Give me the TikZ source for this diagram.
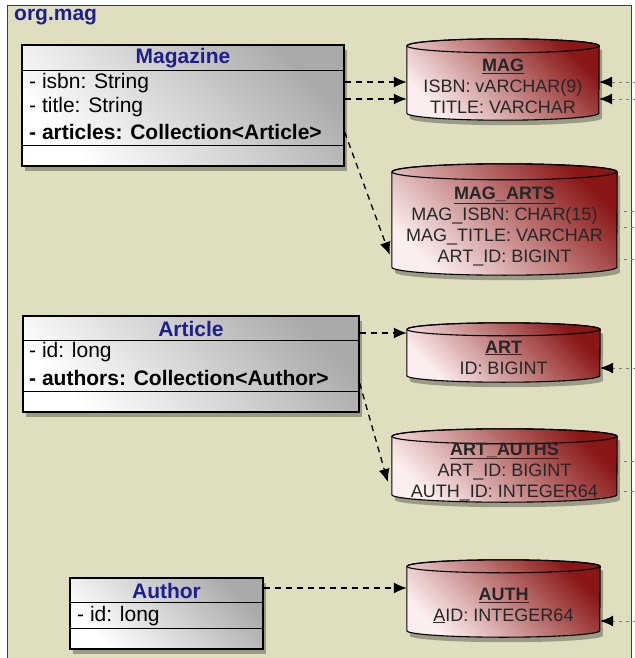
\documentclass[tikz,border=0pt]{standalone}
\usepackage{fontspec}
\setmainfont{Liberation Sans}
\usepackage{tikz}
\usetikzlibrary{arrows.meta}
\usetikzlibrary{shadows}
\definecolor{framebg}{RGB}{223,222,191}
\definecolor{nameblue}{RGB}{30,30,140}
\definecolor{classdark}{RGB}{170,170,170}
\definecolor{tabledark}{RGB}{138,22,22}
\definecolor{tablelight}{RGB}{252,238,238}
\definecolor{refgray}{RGB}{120,120,120}
\tikzset{
  pkgframe/.style={fill=framebg, draw=black!75, line width=1pt},
  pkgname/.style={anchor=west, inner sep=0pt, text=nameblue, font=\fontsize{21}{25}\selectfont\bfseries},
  classbox/.style={draw=black, line width=1.3pt, inner sep=0pt, top color=classdark, bottom color=white, shading angle=-45, drop shadow={shadow xshift=3pt, shadow yshift=-5pt, opacity=0.3, fill=black}},
  sep/.style={draw=black, line width=1.3pt},
  classname/.style={inner sep=0pt, text=nameblue, font=\fontsize{21}{25}\selectfont\bfseries},
  attr/.style={anchor=west, inner sep=0pt, font=\fontsize{21}{25}\selectfont},
  battr/.style={attr, font=\fontsize{21}{25}\selectfont\bfseries},
  tablearea/.style={inner sep=0pt},
  tablebody/.style={draw=black, line width=1.1pt, top color=tabledark, bottom color=tablelight, shading angle=-45, drop shadow={shadow xshift=3pt, shadow yshift=-5pt, opacity=0.3, fill=black}},
  tableedge/.style={draw=black, line width=1.1pt},
  tabletext/.style={inner sep=0pt, align=center, text=black!85, font=\fontsize{18}{21}\selectfont},
  fk/.style={draw=black, line width=1.3pt, dash pattern=on 6pt off 5pt, -{Latex[length=13pt,width=11pt]}},
  ref/.style={draw=refgray, line width=0.9pt, dash pattern=on 3pt off 4pt},
  refin/.style={ref, -{Latex[length=13pt,width=11pt,color=black]}}
}

\begin{document}
\begin{tikzpicture}[x=1pt,y=-1pt]
\useasboundingbox (0,0) rectangle (634,658);
\draw[pkgframe] (7,6) rectangle (631,700);
\node[pkgname] (pkg) at (14,17) {org.mag};
\coordinate (edge) at (636,0);

% classes
\node[classbox, minimum width=322pt, minimum height=121pt] (magazine) at (183,105.5) {};
\draw[sep] ([yshift=-26pt]magazine.north west) -- ([yshift=-26pt]magazine.north east);
\draw[sep] ([yshift=21pt]magazine.south west) -- ([yshift=21pt]magazine.south east);
\node[classname] (magazinename) at (183,58) {Magazine};
\node[attr] (isbn) at (29,83) {- isbn: String};
\node[attr] (title) at (29,107) {- title: String};
\node[battr] (articles) at (29,132) {- articles: Collection<Article>};

\node[classbox, minimum width=336pt, minimum height=96pt] (article) at (191,364) {};
\draw[sep] ([yshift=-25pt]article.north west) -- ([yshift=-25pt]article.north east);
\draw[sep] ([yshift=21pt]article.south west) -- ([yshift=21pt]article.south east);
\node[classname] (articlename) at (191,328.5) {Article};
\node[attr] (artid) at (29,352) {- id: long};
\node[battr] (authors) at (29,378) {- authors: Collection<Author>};

\node[classbox, minimum width=193pt, minimum height=71pt] (author) at (166.5,613.5) {};
\draw[sep] ([yshift=-25pt]author.north west) -- ([yshift=-25pt]author.north east);
\draw[sep] ([yshift=21pt]author.south west) -- ([yshift=21pt]author.south east);
\node[classname] (authorname) at (166.5,590.5) {Author};
\node[attr] (authid) at (77,616) {- id: long};

% tables
\node[tablearea, minimum width=192pt, minimum height=67pt] (mag) at (503,79.5) {};
\path[tablebody] (mag.north west) -- (mag.south west) arc[start angle=180, end angle=360, x radius=96pt, y radius=7pt] -- (mag.north east) arc[start angle=0, end angle=180, x radius=96pt, y radius=7pt] -- cycle;
\draw[tableedge] (mag.north) ellipse [x radius=96pt, y radius=7pt];
\node[tabletext] (magtext) at (503,86.5) {\underline{\textbf{MAG}}\\ISBN: vARCHAR(9)\\TITLE: VARCHAR};

\node[tablearea, minimum width=225pt, minimum height=95pt] (magarts) at (504.5,219.5) {};
\path[tablebody] (magarts.north west) -- (magarts.south west) arc[start angle=180, end angle=360, x radius=112.5pt, y radius=8pt] -- (magarts.north east) arc[start angle=0, end angle=180, x radius=112.5pt, y radius=8pt] -- cycle;
\draw[tableedge] (magarts.north) ellipse [x radius=112.5pt, y radius=8pt];
\node[tabletext] (magartstext) at (504.5,226.5) {\underline{\textbf{MAG\_ARTS}}\\MAG\_ISBN: CHAR(15)\\MAG\_TITLE: VARCHAR\\ART\_ID: BIGINT};

\node[tablearea, minimum width=193pt, minimum height=46pt] (art) at (503.5,352.5) {};
\path[tablebody] (art.north west) -- (art.south west) arc[start angle=180, end angle=360, x radius=96.5pt, y radius=6.5pt] -- (art.north east) arc[start angle=0, end angle=180, x radius=96.5pt, y radius=6.5pt] -- cycle;
\draw[tableedge] (art.north) ellipse [x radius=96.5pt, y radius=6.5pt];
\node[tabletext] (arttext) at (503.5,357.5) {\underline{\textbf{ART}}\\ID: BIGINT};

\node[tablearea, minimum width=225pt, minimum height=58pt] (artauths) at (504.5,465.5) {};
\path[tablebody] (artauths.north west) -- (artauths.south west) arc[start angle=180, end angle=360, x radius=112.5pt, y radius=7.5pt] -- (artauths.north east) arc[start angle=0, end angle=180, x radius=112.5pt, y radius=7.5pt] -- cycle;
\draw[tableedge] (artauths.north) ellipse [x radius=112.5pt, y radius=7.5pt];
\node[tabletext] (artauthstext) at (504.5,471.5) {\underline{\textbf{ART\_AUTHS}}\\ART\_ID: BIGINT\\AUTH\_ID: INTEGER64};

\node[tablearea, minimum width=193pt, minimum height=64pt] (auth) at (503.5,598.5) {};
\path[tablebody] (auth.north west) -- (auth.south west) arc[start angle=180, end angle=360, x radius=96.5pt, y radius=6.5pt] -- (auth.north east) arc[start angle=0, end angle=180, x radius=96.5pt, y radius=6.5pt] -- cycle;
\draw[tableedge] (auth.north) ellipse [x radius=96.5pt, y radius=6.5pt];
\node[tabletext] (authtext) at (503.5,605.5) {\underline{\textbf{AUTH}}\\\underline{A}ID: INTEGER64};

% mappings
\draw[fk] (magazine.east |- 0,82) -- (mag.west |- 0,82);
\draw[fk] (magazine.east |- 0,99) -- (mag.west |- 0,99);
\draw[fk] (magazine.east |- articles) -- ([xshift=-2pt]magarts.west |- 0,255);
\draw[fk] (article.east |- 0,333) -- (art.west |- 0,333);
\draw[fk] (article.east |- 0,383) -- ([xshift=-4pt]artauths.west |- 0,482);
\draw[fk] (author.east |- 0,588) -- (auth.west |- 0,588);

% outside references
\draw[refin] (edge |- 0,82) -- (mag.east |- 0,82);
\draw[refin] (edge |- 0,99) -- (mag.east |- 0,99);
\draw[ref] (magarts.east |- 0,211) -- (edge |- 0,211);
\draw[ref] (magarts.east |- 0,227) -- (edge |- 0,227);
\draw[ref] (magarts.east |- 0,259) -- (edge |- 0,259);
\draw[refin] (edge |- 0,368) -- (art.east |- 0,368);
\draw[ref] (artauths.east |- 0,461) -- (edge |- 0,461);
\draw[ref] (artauths.east |- 0,491) -- (edge |- 0,491);
\draw[refin] (edge |- 0,621) -- (auth.east |- 0,621);
\end{tikzpicture}
\end{document}
